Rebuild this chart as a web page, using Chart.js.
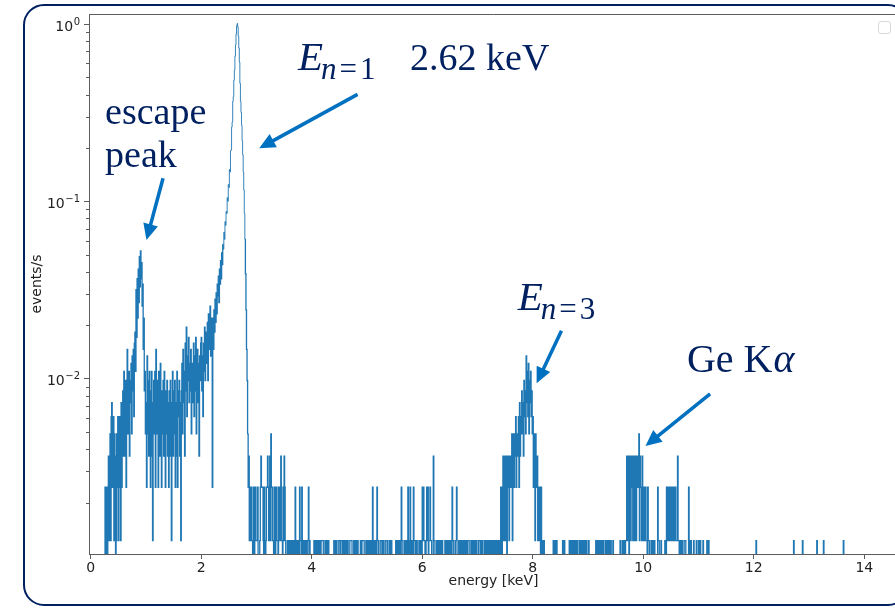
<!DOCTYPE html>
<html>
<head>
<meta charset="utf-8">
<title>Spectrum</title>
<script src="https://cdn.jsdelivr.net/npm/chart.js"></script>
<style>
	html, body { margin: 0; padding: 0; background: #fff; overflow: hidden; }
	.slide-frame { position: absolute; left: 23px; top: 4px; width: 886px; height: 602px; box-sizing: border-box; border: 2px solid #002060; border-radius: 21px; }
	.chart-box { position: absolute; left: 0; top: 0; width: 930px; height: 612px; }
</style>
</head>
<body>
<div class="slide-frame"></div>
<div class="chart-box"><canvas id="spectrumChart" width="930" height="612"></canvas></div>
<script>
// counts per 0.01 keV bin (one row = 0.2 keV)
var binWidth = 0.01; // keV
var liveTime = 820; // s

// 0.00 - 1.00 keV (escape peak)
var countsLow = [
	0, 0, 0, 0, 0, 0, 0, 0, 0, 0, 0, 0, 0, 0, 0, 0, 0, 0, 0, 0,
	0, 0, 0, 0, 0, 0, 2, 0, 1, 2, 0, 1, 3, 1, 2, 4, 1, 5, 6, 2,
	2, 5, 1, 4, 3, 0, 1, 4, 2, 5, 1, 3, 5, 2, 1, 6, 2, 4, 7, 3,
	9, 3, 5, 8, 2, 7, 12, 4, 6, 9, 3, 8, 6, 10, 4, 11, 7, 12, 5, 13,
	15, 9, 26, 14, 30, 18, 34, 22, 40, 27, 43, 30, 37, 21, 28, 12, 18, 7, 9, 4
];
// 1.00 - 2.20 keV
var countsRise = [
	6, 2, 11, 4, 8, 3, 9, 5, 2, 7, 9, 3, 1, 6, 8, 4, 9, 2, 12, 5,
	4, 8, 2, 9, 6, 3, 10, 5, 2, 7, 4, 8, 3, 9, 6, 2, 7, 4, 8, 3,
	6, 2, 7, 3, 8, 5, 1, 6, 9, 3, 7, 4, 8, 2, 6, 3, 9, 2, 7, 5,
	8, 3, 6, 1, 7, 10, 4, 12, 6, 9, 3, 13, 7, 16, 5, 11, 8, 14, 6, 10,
	7, 12, 4, 10, 6, 9, 13, 5, 11, 7, 14, 4, 9, 12, 6, 10, 3, 11, 8, 13,
	14, 7, 11, 5, 13, 9, 16, 8, 12, 15, 10, 17, 8, 19, 12, 16, 21, 11, 18, 14
];
// 2.20 - 2.90 keV (n=1 line)
var countsPeak = [
	2, 18, 12, 20, 15, 23, 17, 25, 19, 28, 24, 31, 22, 34, 28, 38, 30, 42, 36, 47,
	44, 55, 50, 63, 60, 72, 70, 86, 82, 102, 98, 124, 120, 158, 160, 215, 230, 300, 320, 395,
	452, 540, 625, 720, 800, 826, 790, 700, 600, 500, 380, 300, 260, 220, 180, 150, 120, 95, 70, 50,
	32, 20, 12, 8, 4, 2, 3, 1, 2, 1
];
// 2.90 - 7.40 keV
var countsMid = [
	2, 1, 1, 0, 2, 2, 0, 1, 2, 1, 1, 1, 2, 0, 0, 0, 1, 2, 3, 2,
	2, 2, 1, 0, 2, 1, 0, 1, 2, 2, 3, 2, 1, 2, 3, 1, 4, 2, 2, 1,
	1, 0, 2, 2, 0, 1, 2, 1, 1, 0, 2, 2, 1, 1, 3, 1, 1, 0, 2, 1,
	3, 2, 1, 0, 0, 0, 1, 1, 0, 1, 0, 0, 1, 0, 1, 1, 0, 0, 1, 0,
	2, 1, 0, 0, 1, 1, 0, 0, 2, 1, 1, 0, 2, 1, 0, 0, 1, 1, 0, 1,
	0, 0, 1, 1, 2, 0, 1, 0, 0, 0, 0, 0, 0, 0, 1, 1, 0, 1, 1, 0,
	1, 1, 0, 1, 1, 0, 0, 1, 1, 1, 1, 0, 0, 0, 1, 1, 0, 1, 1, 0,
	1, 0, 0, 0, 0, 0, 0, 0, 0, 0, 1, 1, 0, 0, 1, 0, 0, 0, 1, 1,
	1, 0, 0, 1, 1, 1, 0, 0, 1, 0, 1, 1, 0, 0, 1, 1, 0, 0, 0, 1,
	1, 1, 1, 0, 0, 0, 1, 1, 0, 1, 1, 0, 1, 1, 0, 0, 0, 0, 1, 0,
	0, 1, 1, 1, 1, 0, 0, 0, 1, 1, 0, 1, 1, 0, 1, 1, 0, 0, 1, 0,
	2, 0, 1, 1, 0, 0, 1, 0, 2, 1, 1, 0, 0, 0, 1, 1, 1, 0, 0, 1,
	1, 0, 0, 0, 1, 1, 1, 0, 0, 0, 1, 1, 0, 0, 1, 0, 0, 0, 0, 0,
	0, 0, 1, 1, 0, 0, 1, 0, 1, 1, 0, 0, 2, 1, 1, 0, 0, 0, 1, 1,
	0, 1, 1, 0, 2, 1, 0, 0, 2, 0, 1, 1, 0, 0, 2, 1, 1, 0, 0, 1,
	1, 0, 0, 0, 1, 1, 0, 1, 1, 0, 2, 1, 2, 1, 1, 0, 0, 1, 2, 1,
	2, 0, 1, 1, 2, 1, 1, 0, 0, 0, 3, 1, 1, 0, 0, 0, 1, 1, 0, 0,
	1, 0, 1, 1, 0, 0, 1, 0, 0, 0, 0, 1, 1, 0, 1, 1, 0, 0, 1, 0,
	0, 1, 1, 0, 2, 1, 1, 0, 0, 0, 1, 1, 2, 0, 0, 0, 1, 0, 1, 1,
	0, 0, 1, 1, 0, 0, 1, 0, 0, 1, 0, 0, 1, 1, 1, 0, 0, 0, 1, 1,
	0, 1, 1, 0, 1, 1, 0, 0, 1, 0, 0, 0, 1, 1, 1, 0, 0, 1, 1, 0,
	0, 0, 1, 1, 0, 0, 1, 0, 1, 1, 0, 0, 1, 0, 0, 1, 1, 0, 1, 1,
	0, 1, 1, 0, 1, 1, 0, 0, 1, 0
];
// 7.40 - 8.20 keV (n=3 line)
var countsN3 = [
	1, 0, 2, 1, 0, 2, 3, 1, 2, 3, 1, 3, 2, 0, 3, 2, 3, 1, 2, 3,
	3, 2, 4, 1, 3, 4, 2, 4, 3, 5, 2, 4, 4, 3, 5, 2, 6, 3, 5, 4,
	7, 4, 6, 3, 8, 5, 7, 4, 11, 6, 9, 5, 10, 4, 8, 6, 9, 5, 7, 4,
	5, 2, 3, 4, 1, 4, 3, 2, 3, 1, 2, 2, 1, 2, 0, 2, 1, 0, 1, 0
];
// 8.20 - 11.40 keV (Ge K-alpha)
var countsHigh = [
	1, 0, 0, 0, 0, 0, 0, 0, 0, 0, 0, 0, 0, 0, 0, 0, 0, 1, 0, 0,
	1, 0, 0, 1, 0, 0, 0, 0, 0, 0, 0, 0, 0, 0, 1, 0, 1, 1, 0, 0,
	0, 0, 0, 0, 0, 0, 1, 1, 0, 0, 1, 0, 0, 1, 0, 0, 1, 1, 0, 0,
	1, 0, 0, 0, 1, 1, 0, 1, 0, 0, 1, 1, 0, 0, 1, 0, 1, 1, 0, 0,
	0, 1, 0, 0, 0, 0, 0, 0, 0, 0, 0, 0, 0, 0, 1, 1, 0, 0, 1, 0,
	1, 1, 0, 0, 1, 0, 1, 1, 0, 0, 0, 1, 0, 0, 1, 0, 1, 1, 0, 0,
	1, 1, 0, 0, 0, 1, 0, 0, 0, 0, 0, 0, 0, 0, 0, 0, 0, 0, 1, 0,
	0, 0, 1, 0, 1, 1, 0, 0, 1, 1, 3, 1, 2, 3, 0, 2, 3, 1, 2, 3,
	3, 1, 2, 3, 1, 2, 3, 1, 3, 2, 2, 3, 4, 1, 3, 2, 2, 1, 3, 1,
	2, 1, 1, 2, 2, 1, 1, 0, 2, 1, 1, 0, 0, 0, 1, 0, 1, 1, 0, 0,
	1, 0, 0, 0, 0, 0, 2, 1, 1, 0, 0, 0, 1, 0, 0, 0, 0, 0, 0, 1,
	0, 0, 2, 1, 1, 2, 1, 2, 2, 1, 2, 1, 1, 2, 2, 1, 2, 1, 2, 1,
	1, 1, 3, 1, 1, 0, 1, 1, 0, 0, 1, 0, 0, 0, 1, 1, 1, 0, 0, 0,
	0, 0, 2, 1, 0, 0, 1, 0, 0, 0, 0, 1, 0, 0, 0, 0, 1, 0, 0, 0,
	1, 0, 0, 1, 0, 0, 0, 0, 1, 0, 0, 0, 0, 0, 0, 1, 0, 0, 1, 0,
	0, 0, 0, 0, 0, 0, 0, 0, 0, 0, 0, 0, 0, 0, 0, 0, 0, 0, 0, 0
];
// 11.40 - 13.70 keV
var countsTail = [
	0, 0, 0, 0, 0, 0, 0, 0, 0, 0, 0, 0, 0, 0, 0, 0, 0, 0, 0, 0,
	0, 0, 0, 0, 0, 0, 0, 0, 0, 0, 0, 0, 0, 0, 0, 0, 0, 0, 0, 0,
	0, 0, 0, 0, 0, 0, 0, 0, 0, 0, 0, 0, 0, 0, 0, 0, 0, 0, 0, 0,
	0, 0, 0, 0, 1, 0, 0, 0, 0, 0, 0, 0, 0, 0, 0, 0, 0, 0, 0, 0,
	0, 0, 0, 0, 0, 0, 0, 0, 0, 0, 0, 0, 0, 0, 0, 0, 0, 0, 0, 0,
	0, 0, 0, 0, 0, 0, 0, 0, 0, 0, 0, 0, 0, 0, 0, 0, 0, 0, 0, 0,
	0, 0, 0, 0, 0, 0, 0, 0, 0, 0, 0, 0, 1, 0, 0, 0, 0, 0, 0, 0,
	0, 0, 0, 0, 0, 0, 0, 0, 1, 0, 0, 0, 0, 0, 0, 0, 0, 0, 0, 0,
	0, 0, 0, 0, 0, 0, 0, 0, 0, 0, 0, 0, 0, 0, 1, 0, 0, 0, 0, 0,
	0, 0, 0, 0, 0, 0, 1, 0, 0, 0, 0, 0, 0, 0, 0, 0, 0, 0, 0, 0,
	0, 0, 0, 0, 0, 0, 0, 0, 0, 0, 0, 0, 0, 0, 0, 0, 0, 0, 0, 0,
	0, 0, 1, 0, 0, 0, 0, 0, 0, 0
];

var xTicks = [0, 2, 4, 6, 8, 10, 12, 14];

(function () {
	'use strict';

	var textColor = '#222222';
	var spineColor = '#5c5c5c';
	var noteColor = '#002060';
	var arrowColor = '#0070c0';
	var offScale = 1e-7; // empty bins: log(0) falls below the axis

	// annotation anchors in data units (keV, events/s)
	var notes = [
		{text: 'escape', x: 0.26, y: 0.273},
		{text: 'peak', x: 0.26, y: 0.157},
		{text: '2.62 keV', x: 5.78, y: 0.55}
	];
	var lineMarks = [
		{level: '1', x: 3.75, y: 0.55},
		{level: '3', x: 7.73, y: 0.0244}
	];
	var geLabel = {x: 10.79, y: 0.01094};
	var arrows = [
		{from: [1.31, 0.135], to: [1.01, 0.0605]},
		{from: [4.83, 0.401], to: [3.05, 0.199]},
		{from: [8.52, 0.0186], to: [8.07, 0.0094]},
		{from: [11.21, 0.0082], to: [10.04, 0.00417]}
	];

	function isDecade(v) {
		var l = Math.log10(v);
		return Math.abs(l - Math.round(l)) < 1e-6;
	}

	function isNice(v) {
		var r = v / Math.pow(10, Math.floor(Math.log10(v) + 1e-9));
		return Math.abs(r - Math.round(r)) < 1e-6 && Math.round(r) < 10;
	}

	function buildSteps() {
		var counts = [].concat(countsLow, countsRise, countsPeak, countsMid, countsN3, countsHigh, countsTail);
		var pts = [];
		for (var i = 0; i < counts.length; i++) {
			pts.push({x: i * binWidth, y: counts[i] > 0 ? counts[i] / liveTime : offScale});
		}
		pts.push({x: counts.length * binWidth, y: offScale});
		return pts;
	}

	function drawArrow(ctx, x0, y0, x1, y1) {
		var ang = Math.atan2(y1 - y0, x1 - x0);
		var headLen = 16, headHalf = 7.5;
		var bx = x1 - headLen * Math.cos(ang);
		var by = y1 - headLen * Math.sin(ang);
		ctx.strokeStyle = arrowColor;
		ctx.fillStyle = arrowColor;
		ctx.lineWidth = 3.5;
		ctx.beginPath();
		ctx.moveTo(x0, y0);
		ctx.lineTo(bx + Math.cos(ang), by + Math.sin(ang));
		ctx.stroke();
		ctx.beginPath();
		ctx.moveTo(x1, y1);
		ctx.lineTo(bx + headHalf * Math.sin(ang), by - headHalf * Math.cos(ang));
		ctx.lineTo(bx - headHalf * Math.sin(ang), by + headHalf * Math.cos(ang));
		ctx.closePath();
		ctx.fill();
	}

	function drawLevel(ctx, px, py, level) {
		ctx.font = 'italic 41px "Liberation Serif"';
		ctx.fillText('E', px, py);
		var sx = px + ctx.measureText('E').width - 2;
		var sy = py + 9;
		ctx.font = 'italic 31px "Liberation Serif"';
		ctx.fillText('n', sx, sy);
		sx += ctx.measureText('n').width + 3;
		ctx.font = '31px "Liberation Serif"';
		ctx.fillText('=', sx, sy);
		sx += ctx.measureText('=').width + 3;
		ctx.fillText(level, sx, sy);
	}

	// 10 with a raised exponent, right-aligned at x
	function drawDecade(ctx, x, y, exp) {
		var e = exp < 0 ? '\u2212' + (-exp) : String(exp);
		ctx.textAlign = 'right';
		ctx.textBaseline = 'alphabetic';
		ctx.font = '10px "DejaVu Sans"';
		ctx.fillText(e, x, y + 0.5);
		var ew = ctx.measureText(e).width;
		ctx.font = '14px "DejaVu Sans"';
		ctx.fillText('10', x - ew - 0.5, y + 6.8);
	}

	var decorPlugin = {
		id: 'decor',
		afterDraw: function (chart) {
			var ctx = chart.ctx;
			var area = chart.chartArea;
			var xs = chart.scales.x;
			var ys = chart.scales.y;

			ctx.save();
			// top/right spines
			ctx.strokeStyle = spineColor;
			ctx.lineWidth = 1;
			ctx.beginPath();
			ctx.moveTo(area.left, Math.round(area.top) + 0.5);
			ctx.lineTo(area.right, Math.round(area.top) + 0.5);
			ctx.lineTo(area.right, area.bottom);
			ctx.stroke();

			// minor ticks and decade labels on the log axis
			ctx.beginPath();
			ctx.fillStyle = textColor;
			ys.ticks.forEach(function (t) {
				var py = ys.getPixelForValue(t.value);
				if (isDecade(t.value)) {
					drawDecade(ctx, area.left - 9, py, Math.round(Math.log10(t.value)));
					return;
				}
				py = Math.round(py) + 0.5;
				ctx.moveTo(area.left - 3, py);
				ctx.lineTo(area.left, py);
			});
			ctx.stroke();

			// empty legend frame
			ctx.strokeStyle = '#d8d8d8';
			ctx.beginPath();
			ctx.roundRect(area.right - 19.5, area.top + 7.5, 12, 12, 2.5);
			ctx.stroke();

			// annotations
			ctx.fillStyle = noteColor;
			ctx.textAlign = 'left';
			ctx.textBaseline = 'alphabetic';
			ctx.font = '38px "Liberation Serif"';
			notes.forEach(function (n) {
				ctx.fillText(n.text, xs.getPixelForValue(n.x), ys.getPixelForValue(n.y));
			});
			lineMarks.forEach(function (m) {
				drawLevel(ctx, xs.getPixelForValue(m.x), ys.getPixelForValue(m.y), m.level);
			});
			var gx = xs.getPixelForValue(geLabel.x);
			var gy = ys.getPixelForValue(geLabel.y);
			ctx.font = '40px "Liberation Serif"';
			ctx.fillText('Ge K', gx, gy);
			var gw = ctx.measureText('Ge K').width;
			ctx.font = 'italic 40px "Liberation Serif"';
			ctx.fillText('\u03b1', gx + gw + 1, gy);

			arrows.forEach(function (a) {
				drawArrow(ctx,
					xs.getPixelForValue(a.from[0]), ys.getPixelForValue(a.from[1]),
					xs.getPixelForValue(a.to[0]), ys.getPixelForValue(a.to[1]));
			});
			ctx.restore();
		}
	};

	var axisFont = {family: 'DejaVu Sans', size: 14};
	var smoothLevel = 40 / liveTime; // above this the line is well resolved, draw it thinner

	new Chart(document.getElementById('spectrumChart'), {
		type: 'line',
		data: {
			datasets: [{
				label: 'spectrum',
				data: buildSteps(),
				borderColor: '#1f77b4',
				borderWidth: 1.3,
				pointRadius: 0,
				pointHoverRadius: 0,
				stepped: true,
				fill: false,
				clip: 0,
				segment: {
					borderWidth: function (c) {
						return c.p0.parsed.y > smoothLevel && c.p1.parsed.y > smoothLevel ? 0.9 : 1.3;
					}
				}
			}]
		},
		options: {
			responsive: false,
			animation: false,
			devicePixelRatio: 1,
			events: [],
			layout: {
				padding: {left: 0, top: 14, right: 32, bottom: 0}
			},
			plugins: {
				legend: {display: false},
				tooltip: {enabled: false}
			},
			scales: {
				x: {
					type: 'linear',
					min: -0.03,
					max: 14.61,
					afterFit: function (scale) { scale.height = 58; },
					afterBuildTicks: function (scale) {
						scale.ticks = xTicks.map(function (v) { return {value: v}; });
					},
					border: {display: true, color: spineColor, width: 1},
					grid: {drawOnChartArea: false, drawTicks: true, tickLength: 5, tickColor: spineColor},
					ticks: {
						color: textColor,
						font: axisFont,
						padding: 1,
						maxRotation: 0,
						autoSkip: false,
						callback: function (v) { return String(v); }
					},
					title: {
						display: true,
						text: 'energy [keV]',
						color: textColor,
						font: axisFont,
						padding: {top: 0, bottom: 22}
					}
				},
				y: {
					type: 'logarithmic',
					min: 0.001025,
					max: 1.139,
					afterFit: function (scale) { scale.width = 89; },
					afterBuildTicks: function (scale) {
						scale.ticks = scale.ticks.filter(function (t) { return isNice(t.value); });
					},
					border: {display: true, color: spineColor, width: 1},
					grid: {
						drawOnChartArea: false,
						drawTicks: true,
						tickLength: 5,
						tickColor: function (c) {
							return c.tick && isDecade(c.tick.value) ? spineColor : 'rgba(0,0,0,0)';
						}
					},
					ticks: {
						color: textColor,
						font: axisFont,
						padding: 4,
						autoSkip: false,
						callback: function () { return ''; }
					},
					title: {
						display: true,
						text: 'events/s',
						color: textColor,
						font: axisFont,
						padding: {top: 29, bottom: 0}
					}
				}
			}
		},
		plugins: [decorPlugin]
	});
})();
</script>
</body>
</html>
